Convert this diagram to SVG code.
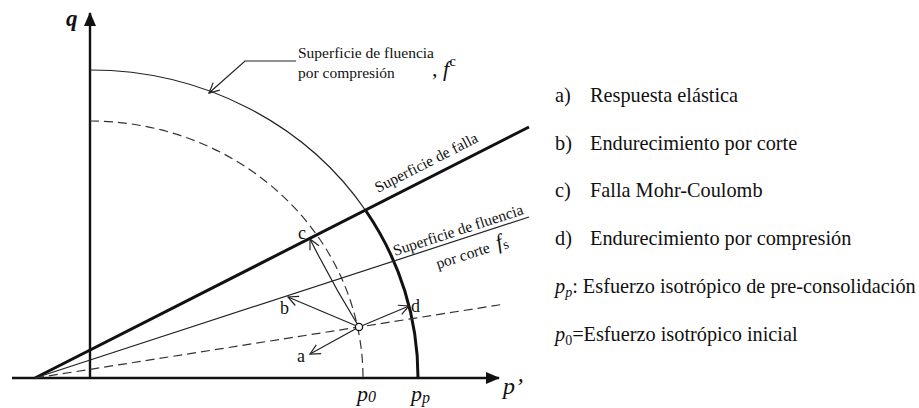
<svg xmlns="http://www.w3.org/2000/svg" width="919" height="408" viewBox="0 0 919 408">
<style>
text{font-family:'Liberation Serif','Times New Roman',serif;fill:#111}
.it{font-style:italic}
.thin{fill:none;stroke:#222;stroke-width:1.2}
.thick{fill:none;stroke:#111;stroke-width:3}
.axis{fill:none;stroke:#111;stroke-width:2.4}
.dash{fill:none;stroke:#333;stroke-width:1.2;stroke-dasharray:9 5}
.arr{fill:none;stroke:#222;stroke-width:1.2;marker-end:url(#oa)}
</style>
<defs>
<marker id="oa" viewBox="0 0 12 12" refX="11" refY="6" markerWidth="12" markerHeight="12" markerUnits="userSpaceOnUse" orient="auto">
<path d="M1,1 L11,6 L1,11" fill="none" stroke="#222" stroke-width="1.2"/>
</marker>
<marker id="fa" viewBox="0 0 14 12" refX="13" refY="6" markerWidth="14" markerHeight="12" markerUnits="userSpaceOnUse" orient="auto">
<path d="M0,0 L14,6 L0,12 Z" fill="#111"/>
</marker>
</defs>
<rect width="919" height="408" fill="#fff"/>
<g id="axes">
<line class="axis" x1="12" y1="378" x2="499" y2="378" marker-end="url(#fa)"/>
<line class="axis" x1="90" y1="378" x2="90" y2="13" marker-end="url(#fa)"/>
<text class="it" x="66" y="26" font-size="23" font-weight="bold">q</text>
<text class="it" x="503" y="394" font-size="24">p’</text>
<text class="it" x="357" y="401" font-size="22">p<tspan font-size="16" dy="1">0</tspan></text>
<text class="it" x="411" y="401" font-size="22">p<tspan font-size="16" dy="2">p</tspan></text>
</g>
<g id="compression-surface">
<path class="thin" d="M90,70 A328,308 0 0 1 366,211"/>
<path class="thick" d="M366,211 A328,308 0 0 1 418,378"/>
<text x="298" y="58" font-size="15.5">Superficie de fluencia</text>
<text x="298" y="78" font-size="15.5">por compresión</text>
<text x="432" y="76" font-size="22">, <tspan class="it">f</tspan><tspan font-size="15" dy="-10">c</tspan></text>
</g>
<g id="initial-surface">
<path class="dash" d="M90,121 A273,257 0 0 1 363,378"/>
</g>
<g id="failure-line">
<line class="thick" x1="35" y1="378" x2="529" y2="127"/>
<text font-size="15.5" transform="translate(378,193) rotate(-27)">Superficie de falla</text>
</g>
<g id="shear-surface">
<line class="thin" x1="35" y1="378" x2="529" y2="217"/>
<text font-size="15.5" transform="translate(395,256) rotate(-18)">Superficie de fluencia</text>
<text font-size="15.5" transform="translate(438,269) rotate(-18)">por corte <tspan class="it" font-size="21" dx="4">f</tspan><tspan font-size="14" dy="2">s</tspan></text>
</g>
<g id="stress-path">
<line class="dash" x1="35" y1="378" x2="505" y2="304"/>
</g>
<g id="connectors">
<path class="thin" d="M296,61 L245,61 L209,93" marker-end="url(#oa)"/>
<line class="arr" x1="359" y1="327" x2="310" y2="354"/>
<line class="arr" x1="359" y1="327" x2="288" y2="297"/>
<path class="arr" d="M359,327 Q332,283 310,239"/>
<line class="arr" x1="359" y1="327" x2="409" y2="306"/>
</g>
<g id="state-point">
<circle cx="359" cy="327" r="3.6" fill="#fff" stroke="#111" stroke-width="1.3"/>
<text x="297" y="362" font-size="18">a</text>
<text x="280" y="314" font-size="18">b</text>
<text x="298" y="239" font-size="18">c</text>
<text x="411" y="312" font-size="18">d</text>
</g>
<g id="legend" font-size="20.3">
<text x="555" y="102">a)</text>
<text x="590" y="102">Respuesta elástica</text>
<text x="555" y="150">b)</text>
<text x="590" y="150">Endurecimiento por corte</text>
<text x="555" y="197">c)</text>
<text x="590" y="197">Falla Mohr-Coulomb</text>
<text x="555" y="245">d)</text>
<text x="590" y="245">Endurecimiento por compresión</text>
<text x="555" y="293"><tspan class="it">p</tspan><tspan class="it" font-size="14" dy="4">p</tspan><tspan dy="-4">: Esfuerzo isotrópico de pre-consolidación</tspan></text>
<text x="555" y="341"><tspan class="it">p</tspan><tspan font-size="14" dy="4">0</tspan><tspan dy="-4">=Esfuerzo isotrópico inicial</tspan></text>
</g>
</svg>
